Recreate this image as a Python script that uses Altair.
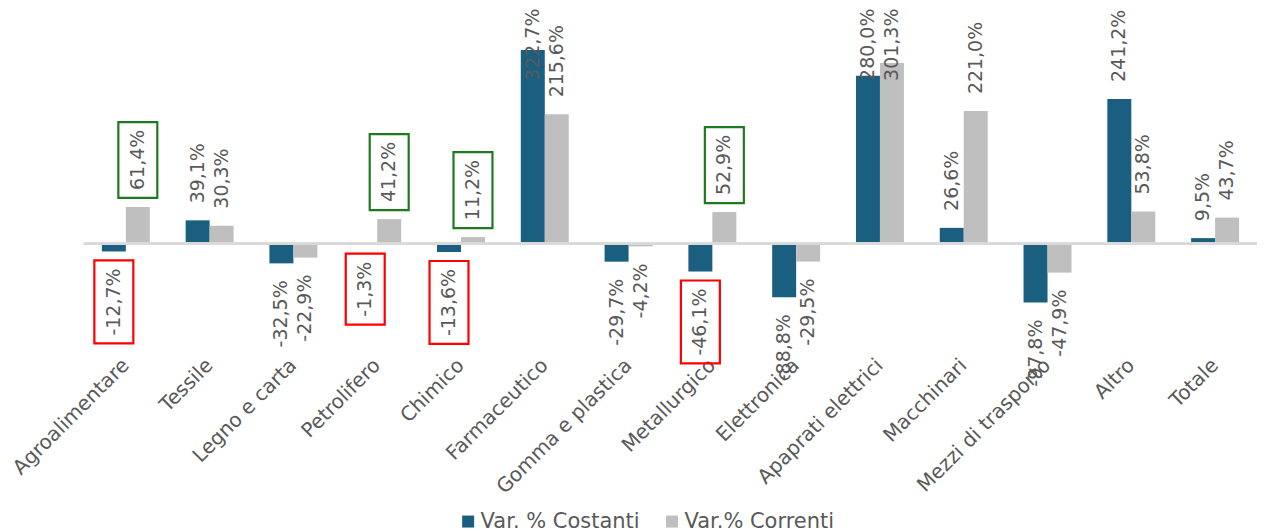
import altair as alt
import pandas as pd

categories = ["Agroalimentare", "Tessile", "Legno e carta", "Petrolifero", "Chimico",
              "Farmaceutico", "Gomma e plastica", "Metallurgico", "Elettronica",
              "Apaprati elettrici", "Macchinari", "Mezzi di trasporto", "Altro", "Totale"]
costanti = [-12.7, 39.1, -32.5, -1.3, -13.6, 322.7, -29.7, -46.1, -88.8, 280.0, 26.6, -97.8, 241.2, 9.5]
correnti = [61.4, 30.3, -22.9, 41.2, 11.2, 215.6, -4.2, 52.9, -29.5, 301.3, 221.0, -47.9, 53.8, 43.7]
series_names = ["Var. % Costanti", "Var.% Correnti"]
highlighted = ["Agroalimentare", "Petrolifero", "Chimico", "Metallurgico"]

rows = []
for i, c in enumerate(categories):
    for s, vals in zip(series_names, [costanti, correnti]):
        v = vals[i]
        rows.append({"cat": c, "series": s, "v": v,
                     "label": f"{v:.1f}".replace(".", ",") + "%",
                     "hl": 1 if c in highlighted else 0})
df = pd.DataFrame(rows)

FONT = "DejaVu Sans"
BLUE = "#1a5e80"
GRAY = "#bfbfbf"
TXT = "#595959"
PLOT_W = 1174
PLOT_H = 336
Y_MIN, Y_MAX = -170, 389
PX = PLOT_H / (Y_MAX - Y_MIN)
LABEL_CAP = 243
BAR_W = 24

yscale = alt.Scale(domain=[Y_MIN, Y_MAX], nice=False, zero=False)
x = alt.X("cat:N", sort=categories,
          scale=alt.Scale(paddingInner=0.428, paddingOuter=0.214),
          axis=alt.Axis(title=None, labelAngle=315, labelAlign="right", labelBaseline="middle",
                        labelPadding=16, domain=False, ticks=False, labelFont=FONT,
                        labelFontSize=20, labelColor=TXT, labelLimit=400))

base = alt.Chart(df)
layers = []

for k, s in enumerate(series_names):
    off = -BAR_W / 2 if k == 0 else BAR_W / 2
    sub = base.transform_filter(alt.datum.series == s)
    layers.append(sub.mark_bar(width=BAR_W, xOffset=off).encode(
        x=x,
        y=alt.Y("v:Q", scale=yscale, axis=None),
        color=alt.Color("series:N", sort=series_names,
                        scale=alt.Scale(domain=series_names, range=[BLUE, GRAY]),
                        legend=alt.Legend(title=None, orient="none", legendX=374, legendY=501,
                                          direction="horizontal", symbolType="square",
                                          symbolSize=144, symbolStrokeWidth=0,
                                          labelFont=FONT, labelFontSize=21, labelColor=TXT,
                                          columnPadding=21, labelOffset=2)),
    ))

layers.append(base.transform_calculate(z="0").mark_rule(color="#d9d9d9", strokeWidth=2).encode(
    y=alt.Y("z:Q", scale=yscale, axis=None)))

for k, s in enumerate(series_names):
    off = -BAR_W / 2 if k == 0 else BAR_W / 2
    sub = base.transform_filter(alt.datum.series == s)
    layers.append(sub.transform_filter("datum.v >= 0").transform_calculate(
        ly=f"min(datum.v, {LABEL_CAP})"
    ).mark_text(angle=270, align="left", baseline="middle", dx=17, xOffset=off, font=FONT,
                fontSize=19, color=TXT).encode(
        x=x, y=alt.Y("ly:Q", scale=yscale, axis=None), text="label:N"))
    layers.append(sub.transform_filter("datum.v < 0").mark_text(
        angle=270, align="right", baseline="middle", dx=-17, xOffset=off, font=FONT,
        fontSize=19, color=TXT).encode(
        x=x, y=alt.Y("v:Q", scale=yscale, axis=None), text="label:N"))
    layers.append(sub.transform_filter("datum.hl == 1").transform_calculate(
        sgn="datum.v >= 0 ? 1 : -1",
        blen="16 + 12 * length(datum.label) - (datum.v < 0 ? 5 : 0)",
        b1=f"datum.v + datum.sgn * 9 / {PX}",
        b2=f"datum.v + datum.sgn * (9 + datum.blen) / {PX}",
        bc="datum.v >= 0 ? '#1f7a1f' : '#ff0000'",
    ).mark_bar(fill="white", fillOpacity=0, strokeWidth=2.2, width=39, xOffset=off).encode(
        x=x,
        y=alt.Y("b1:Q", scale=yscale, axis=None), y2="b2:Q",
        stroke=alt.Stroke("bc:N", scale=None),
    ))

chart = alt.layer(*layers).properties(
    width=PLOT_W, height=PLOT_H,
    padding={"left": 1, "top": 0, "right": 0, "bottom": 0},
    background="white",
).configure_view(stroke=None)

chart.save("out.html", embed_options={"renderer": "svg", "actions": False})
